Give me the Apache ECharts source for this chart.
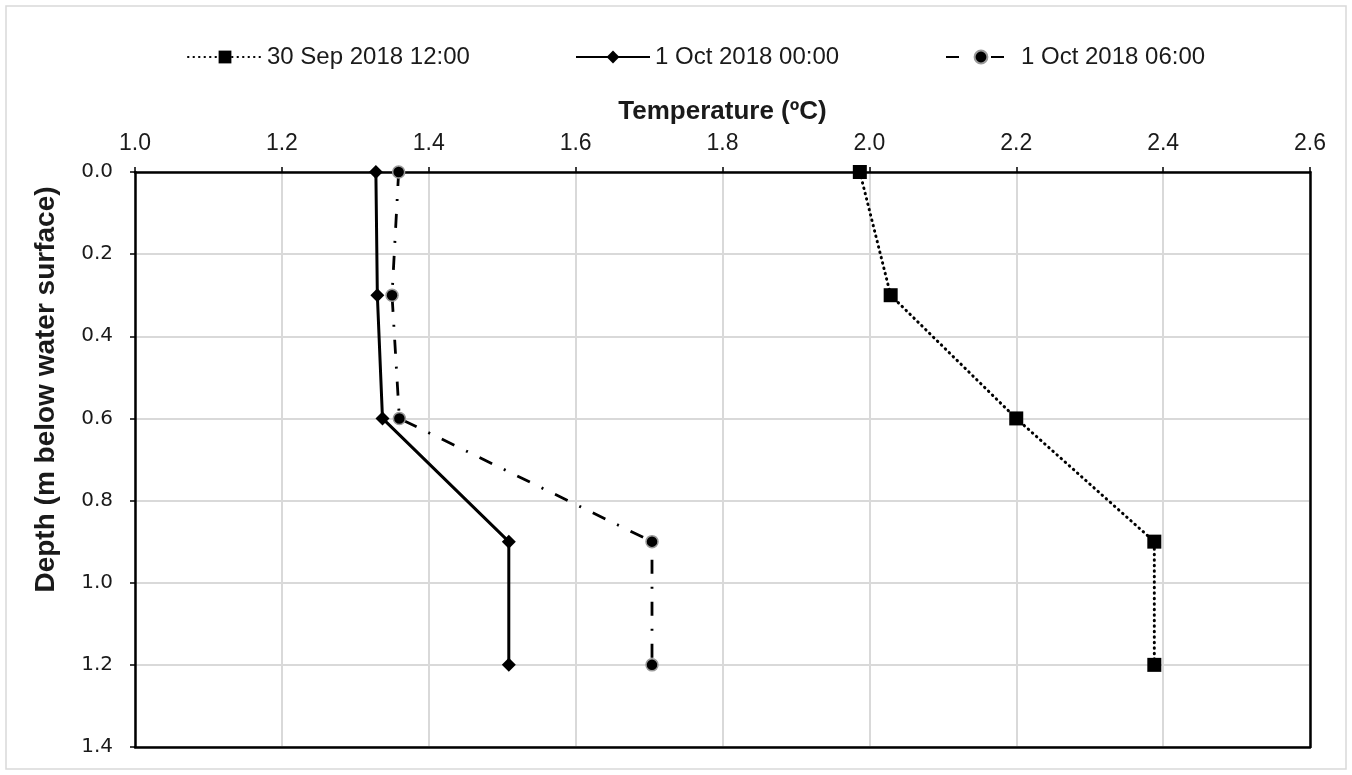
<!DOCTYPE html>
<html>
<head>
<meta charset="utf-8">
<script src="https://cdn.jsdelivr.net/npm/echarts@6/dist/echarts.min.js"></script>
<style>
html,body{margin:0;padding:0;background:#fff;}
#chart{width:1352px;height:775px;}
</style>
</head>
<body>
<div id="chart"></div>
<script>
const depths = [0, 0.3, 0.6, 0.9, 1.2];
const seriesNames = ['30 Sep 2018 12:00', '1 Oct 2018 00:00', '1 Oct 2018 06:00'];
const tempSep30_1200 = [1.987, 2.029, 2.200, 2.388, 2.388];
const tempOct1_0000 = [1.328, 1.330, 1.337, 1.509, 1.509];
const tempOct1_0600 = [1.359, 1.350, 1.360, 1.704, 1.704];
const xTicks = [1.0, 1.2, 1.4, 1.6, 1.8, 2.0, 2.2, 2.4, 2.6];
const yTicks = [0.0, 0.2, 0.4, 0.6, 0.8, 1.0, 1.2, 1.4];

function pairs(temps){ return temps.map((t,i)=>[t, depths[i]]); }

const chart = echarts.init(document.getElementById('chart'));
const font = 'Liberation Sans, Arial, sans-serif';
const textColor = '#1a1a1a';
function legendFor(i, left, w, extra){
  return Object.assign({
    left: left, top: 40, itemWidth: w, itemHeight: 16, data: [seriesNames[i]],
    textStyle: {fontFamily: font, fontSize: 24, color: textColor}
  }, extra || {});
}
const frameAxis = {
  show: true, axisLabel: {show: false}, axisTick: {show: false}, splitLine: {show: false},
  axisLine: {show: true, onZero: false, lineStyle: {color: '#000', width: 2.5}}, z: 5
};
chart.setOption({
  animation: false,
  backgroundColor: '#fff',
  graphic: [{
    type: 'rect', shape: {x: 6, y: 6, width: 1340, height: 763},
    style: {fill: 'none', stroke: '#d9d9d9', lineWidth: 1.5}, silent: true, z: -10
  }],
  legend: [
    legendFor(0, 182, 74),
    legendFor(1, 570, 74),
    legendFor(2, 940, 70, {lineStyle: {type: [13, 32, 13, 100]}})
  ],
  grid: {left: 135, right: 42, top: 172, bottom: 28},
  xAxis: [{
    type: 'value', position: 'top', min: xTicks[0], max: xTicks[xTicks.length-1], interval: 0.2,
    name: 'Temperature (ºC)', nameLocation: 'middle', nameGap: 47,
    nameTextStyle: {fontFamily: font, fontSize: 26, fontWeight: 'bold', color: textColor},
    axisLine: {show: true, onZero: false, lineStyle: {color: '#000', width: 2.5}},
    axisTick: {show: true, inside: false, length: 5, lineStyle: {color: '#000', width: 1.5}},
    axisLabel: {margin: 17, fontFamily: font, fontSize: 23, color: textColor, formatter: v => v.toFixed(1)},
    splitLine: {show: true, lineStyle: {color: '#d9d9d9', width: 2}},
    z: 2
  }, Object.assign({type: 'value', position: 'bottom', min: xTicks[0], max: xTicks[xTicks.length-1], interval: 0.2}, frameAxis)],
  yAxis: [{
    type: 'value', inverse: true, min: yTicks[0], max: yTicks[yTicks.length-1], interval: 0.2,
    name: 'Depth (m below water surface)', nameLocation: 'middle', nameGap: 75, nameRotate: 90,
    nameTextStyle: {fontFamily: font, fontSize: 28, fontWeight: 'bold', color: textColor, padding: [0, 0, 0, 140]},
    axisLine: {show: true, onZero: false, lineStyle: {color: '#000', width: 2.5}},
    axisTick: {show: true, inside: false, length: 5, lineStyle: {color: '#000', width: 1.5}},
    axisLabel: {margin: 22, fontFamily: 'DejaVu Sans, Verdana, sans-serif', fontSize: 20, color: textColor, formatter: v => v.toFixed(1)},
    splitLine: {show: true, lineStyle: {color: '#d9d9d9', width: 2}},
    z: 2
  }, Object.assign({type: 'value', position: 'right', inverse: true, min: yTicks[0], max: yTicks[yTicks.length-1], interval: 0.2}, frameAxis)],
  series: [
    {
      name: seriesNames[0], type: 'line', data: pairs(tempSep30_1200),
      symbol: 'rect', symbolSize: 14,
      lineStyle: {color: '#000', width: 3, type: [0.5, 5], cap: 'round'},
      itemStyle: {color: '#000'}, z: 3
    },
    {
      name: seriesNames[1], type: 'line', data: pairs(tempOct1_0000),
      symbol: 'diamond', symbolSize: [14, 14],
      lineStyle: {color: '#000', width: 3, type: 'solid'},
      itemStyle: {color: '#000'}, z: 3
    },
    {
      name: seriesNames[2], type: 'line', data: pairs(tempOct1_0600),
      symbol: 'circle', symbolSize: 12,
      lineStyle: {color: '#000', width: 2.8, type: [14, 13, 2, 13]},
      itemStyle: {color: '#000', borderColor: '#9a9a9a', borderWidth: 1.5}, z: 3
    }
  ]
});
</script>
</body>
</html>
